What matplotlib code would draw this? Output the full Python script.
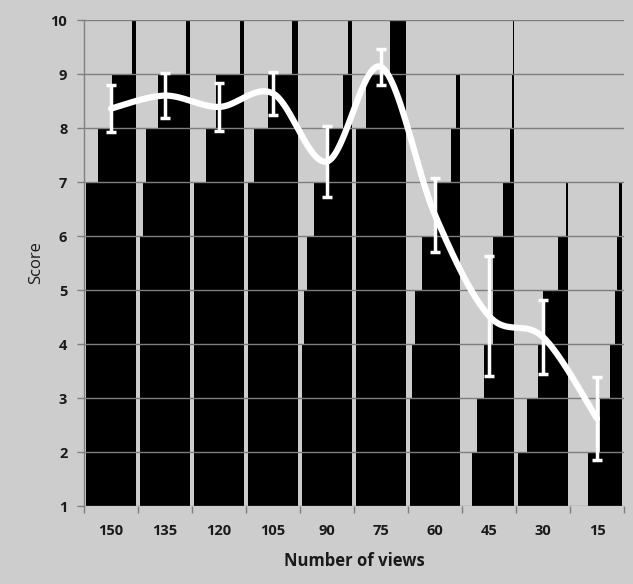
import numpy as np
import matplotlib
matplotlib.use("Agg")
import matplotlib.pyplot as plt

# ---- data ----
categories = ["150", "135", "120", "105", "90", "75", "60", "45", "30", "15"]
# fraction of black per score band (band 1-2, 2-3, ..., 9-10), right-aligned
frac_150 = [1, 1, 1, 1, 1, 1, 0.75, 0.49, 0.09]
frac_135 = [1, 1, 1, 1, 1, 0.93, 0.88, 0.64, 0.09]
frac_120 = [1, 1, 1, 1, 1, 1, 0.75, 0.56, 0.09]
frac_105 = [1, 1, 1, 1, 1, 1, 0.88, 0.59, 0.13]
frac_90 = [1, 1, 1, 0.95, 0.90, 0.75, 0.48, 0.18, 0.08]
frac_75 = [1, 1, 1, 1, 1, 1, 1, 0.79, 0.33]
frac_60 = [1, 1, 0.95, 0.90, 0.75, 0.49, 0.19, 0.08, 0]
frac_45 = [0.83, 0.74, 0.59, 0.43, 0.43, 0.22, 0.08, 0.05, 0.03]
frac_30 = [1, 0.81, 0.60, 0.50, 0.21, 0.05, 0, 0, 0]
frac_15 = [0.67, 0.45, 0.25, 0.15, 0.10, 0.06, 0, 0, 0]
fractions = [frac_150, frac_135, frac_120, frac_105, frac_90,
             frac_75, frac_60, frac_45, frac_30, frac_15]
band_lows = [1, 2, 3, 4, 5, 6, 7, 8, 9]

means = [8.36, 8.60, 8.39, 8.64, 7.38, 9.13, 6.39, 4.52, 4.13, 2.62]
errors = [0.43, 0.42, 0.45, 0.40, 0.66, 0.33, 0.68, 1.11, 0.68, 0.77]

# ---- style ----
BG = "#cdcdcd"
GRID = "#7f7f7f"
TXT = "#1a1a1a"
FONT = ["Open Sans", "DejaVu Sans"]
plt.rcParams["font.family"] = FONT

fig = plt.figure(figsize=(6.33, 5.84), dpi=100, facecolor=BG)
ax = fig.add_axes([84 / 633, 78 / 584, 540 / 633, 486 / 584], facecolor=BG)

x = np.arange(len(categories))
full_w = 0.94
for xi, fr in zip(x, fractions):
    fr = np.asarray(fr, dtype=float)
    right = xi + full_w / 2
    widths = fr * full_w
    ax.barh(np.asarray(band_lows) + 0.5, widths, height=1.0, left=right - widths,
            color="black", linewidth=0, zorder=2)

# horizontal gridlines on top of bars
for v in range(1, 11):
    ax.axhline(v, color=GRID, lw=1.0, zorder=3)

# smoothed line (Bezier / Catmull-Rom style, like Excel smoothing)
def smooth(xs, ys, n=40):
    xs = np.asarray(xs, float); ys = np.asarray(ys, float)
    P = np.column_stack([xs, ys])
    P = np.vstack([P[0], P, P[-1]])
    out = []
    for i in range(1, len(P) - 2):
        p0, p1, p2, p3 = P[i - 1], P[i], P[i + 1], P[i + 2]
        c1 = p1 + (p2 - p0) / 6
        c2 = p2 - (p3 - p1) / 6
        t = np.linspace(0, 1, n)[:, None]
        seg = ((1 - t) ** 3) * p1 + 3 * ((1 - t) ** 2) * t * c1 + 3 * (1 - t) * t ** 2 * c2 + t ** 3 * p2
        out.append(seg if i == 1 else seg[1:])
    out = np.vstack(out)
    return out[:, 0], out[:, 1]

sx, sy = smooth(x, means)
ax.plot(sx, sy, color="white", lw=4.5, zorder=5, solid_capstyle="round")
ax.errorbar(x, means, yerr=errors, fmt="none", ecolor="white", elinewidth=2.5,
            capsize=3.5, capthick=2.5, zorder=6)

ax.set_xlim(-0.5, len(categories) - 0.5)
ax.set_ylim(1, 10)
ax.set_yticks(range(1, 11))
ax.set_yticklabels([str(v) for v in range(1, 11)], fontsize=10.5,
                   fontweight="bold", color=TXT)
ax.set_xticks(x)
ax.set_xticklabels(categories, fontsize=10.5, fontweight="bold", color=TXT)
ax.set_xticks(np.arange(-0.5, len(categories)), minor=True)
ax.tick_params(axis="x", which="major", length=0, pad=13)
ax.tick_params(axis="x", which="minor", length=5, color=GRID, width=1)
ax.tick_params(axis="y", length=5, color=GRID, width=1, pad=7)

for s in ["top", "right", "bottom"]:
    ax.spines[s].set_visible(False)
ax.spines["left"].set_color(GRID)
ax.spines["left"].set_linewidth(1)

ax.set_xlabel("Number of views", fontsize=12, fontweight="bold", color=TXT, labelpad=10)
ax.set_ylabel("Score", fontsize=12, color=TXT, labelpad=5)

fig.savefig("out.png", dpi=100, facecolor=BG)
